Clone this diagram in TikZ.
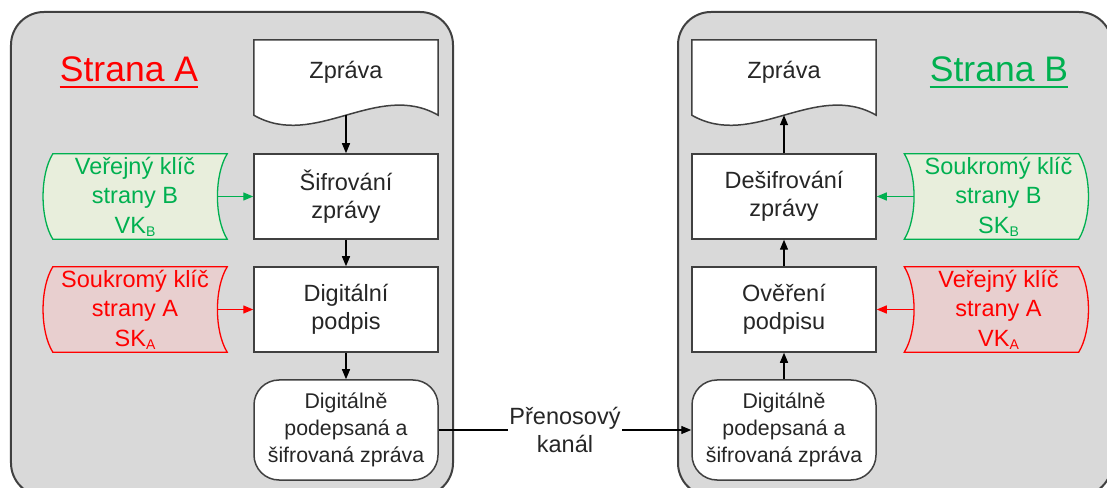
\documentclass[tikz,border=0pt]{standalone}
\usepackage{fontspec}
\setmainfont{Liberation Sans}
\usetikzlibrary{arrows.meta,calc}

\definecolor{panelgray}{HTML}{D9D9D9}
\definecolor{edgegray}{HTML}{404040}
\definecolor{boxedge}{HTML}{404040}
\definecolor{ink}{HTML}{262626}
\definecolor{keygreen}{HTML}{00B050}
\definecolor{keygreenfill}{HTML}{E8EEDC}
\definecolor{keyred}{HTML}{FF0000}
\definecolor{keyredfill}{HTML}{E8CFCF}

\newcommand\fsMain{\fontsize{23.5bp}{28bp}\selectfont}
\newcommand\fsRound{\fontsize{21.3bp}{27bp}\selectfont}
\newcommand\fsKey{\fontsize{23.5bp}{29.5bp}\selectfont}
\newcommand\fsTitle{\fontsize{35.5bp}{40bp}\selectfont}
\newcommand\lowidx[1]{\raisebox{-3bp}{\fontsize{14bp}{14bp}\selectfont #1}}

\tikzset{
  panel/.style={draw=edgegray, line width=2bp, fill=panelgray,
    rounded corners=33bp, minimum height=484bp, inner sep=0pt},
  boxline/.style={draw=boxedge, line width=1.5bp, fill=white},
  procbox/.style={boxline, minimum width=184bp, minimum height=85bp,
    inner sep=0pt, align=center, text=ink, font=\fsMain},
  endbox/.style={procbox, rounded corners=25bp, minimum height=100bp, font=\fsRound},
  docarea/.style={minimum width=184bp, minimum height=75bp, inner sep=0pt},
  doctext/.style={inner sep=0pt, text=ink, font=\fsMain},
  keyarea/.style={minimum width=184bp, minimum height=85bp, inner sep=0pt},
  keytext/.style={inner sep=0pt, align=center, font=\fsKey},
  greenkey/.style={draw=keygreen, line width=1.3bp, fill=keygreenfill},
  redkey/.style={draw=keyred, line width=1.3bp, fill=keyredfill},
  flow/.style={-{Triangle[length=10bp,width=8bp]}, line width=1.3bp, draw=black},
  sidetitle/.style={font=\fsTitle, inner sep=0pt, anchor=base},
  channel/.style={fill=white, inner sep=1bp, align=center, text=ink, font=\fsMain},
}

\begin{document}
\begin{tikzpicture}[x=1bp, y=-1bp]
\useasboundingbox (0,0) rectangle (1107,488);

% the two parties
\node[panel, minimum width=442bp] (panA) at (232,254) {};
\node[panel, minimum width=434bp] (panB) at (895,254) {};

% ---------- party A ----------
\node[sidetitle, text=keyred] (strA) at (129,82) {Strana A};
\draw[keyred, line width=2bp] ([yshift=-5bp]strA.base west) -- ([yshift=-5bp]strA.base east);

\node[docarea] (docA) at (346,77.5) {};
\draw[boxline] (docA.north west) -- (docA.north east) -- (docA.south east)
  .. controls +(-61,-35) and +(61,35) .. (docA.south west) -- cycle;
\node[doctext] (docAt) at (346,72) {Zpráva};

\node[procbox] (encA) at (346,196.5) {Šifrování\\zprávy};
\node[procbox] (sigA) at (346,309.5) {Digitální\\podpis};
\node[endbox] (outA) at (346,430) {Digitálně\\podepsaná a\\šifrovaná zpráva};

% public key of B
\node[keyarea] (kVB) at (135,196.5) {};
\draw[greenkey] ([xshift=10bp]kVB.north west) -- (kVB.north east)
  .. controls +(-13,21) and +(-13,-21) .. (kVB.south east)
  -- ([xshift=10bp]kVB.south west)
  .. controls +(-13,-21) and +(-13,21) .. ([xshift=10bp]kVB.north west) -- cycle;
\node[keytext, text=keygreen] (kVBt) at (kVB.center) {Veřejný klíč\\strany B\\VK\lowidx{B}};

% private key of A
\node[keyarea] (kSA) at (135,309.5) {};
\draw[redkey] ([xshift=10bp]kSA.north west) -- (kSA.north east)
  .. controls +(-13,21) and +(-13,-21) .. (kSA.south east)
  -- ([xshift=10bp]kSA.south west)
  .. controls +(-13,-21) and +(-13,21) .. ([xshift=10bp]kSA.north west) -- cycle;
\node[keytext, text=keyred] (kSAt) at (kSA.center) {Soukromý klíč\\strany A\\SK\lowidx{A}};

\draw[flow] (docA.south) -- (encA.north);
\draw[flow] (encA.south) -- (sigA.north);
\draw[flow] (sigA.south) -- (outA.north);
\draw[flow, draw=keygreen, color=keygreen] ([xshift=-10bp]kVB.east) -- (encA.west);
\draw[flow, draw=keyred, color=keyred] ([xshift=-10bp]kSA.east) -- (sigA.west);

% ---------- party B ----------
\node[sidetitle, text=keygreen] (strB) at (999,82) {Strana B};
\draw[keygreen, line width=2bp] ([yshift=-5bp]strB.base west) -- ([yshift=-5bp]strB.base east);

\node[docarea] (docB) at (784,77.5) {};
\draw[boxline] (docB.north west) -- (docB.north east) -- (docB.south east)
  .. controls +(-61,-35) and +(61,35) .. (docB.south west) -- cycle;
\node[doctext] (docBt) at (784,72) {Zpráva};

\node[procbox] (decB) at (784,196.5) {Dešifrování\\zprávy};
\node[procbox] (verB) at (784,309.5) {Ověření\\podpisu};
\node[endbox] (inB) at (784,430) {Digitálně\\podepsaná a\\šifrovaná zpráva};

% private key of B
\node[keyarea] (kSB) at (996.5,196.5) {};
\draw[greenkey] (kSB.north west) -- ([xshift=-10bp]kSB.north east)
  .. controls +(13,21) and +(13,-21) .. ([xshift=-10bp]kSB.south east)
  -- (kSB.south west)
  .. controls +(13,-21) and +(13,21) .. (kSB.north west) -- cycle;
\node[keytext, text=keygreen] (kSBt) at ([xshift=2bp]kSB.center) {Soukromý klíč\\strany B\\SK\lowidx{B}};

% public key of A
\node[keyarea] (kVA) at (996.5,309.5) {};
\draw[redkey] (kVA.north west) -- ([xshift=-10bp]kVA.north east)
  .. controls +(13,21) and +(13,-21) .. ([xshift=-10bp]kVA.south east)
  -- (kVA.south west)
  .. controls +(13,-21) and +(13,21) .. (kVA.north west) -- cycle;
\node[keytext, text=keyred] (kVAt) at ([xshift=2bp]kVA.center) {Veřejný klíč\\strany A\\VK\lowidx{A}};

\draw[flow] (inB.north) -- (verB.south);
\draw[flow] (verB.north) -- (decB.south);
\draw[flow] (decB.north) -- (docB.south);
\draw[flow, draw=keygreen, color=keygreen] ([xshift=10bp]kSB.west) -- (decB.east);
\draw[flow, draw=keyred, color=keyred] ([xshift=10bp]kVA.west) -- (verB.east);

% transmission channel
\draw[flow] (outA.east) -- node[channel] (chan) {Přenosový\\kanál} (inB.west);
\end{tikzpicture}
\end{document}
